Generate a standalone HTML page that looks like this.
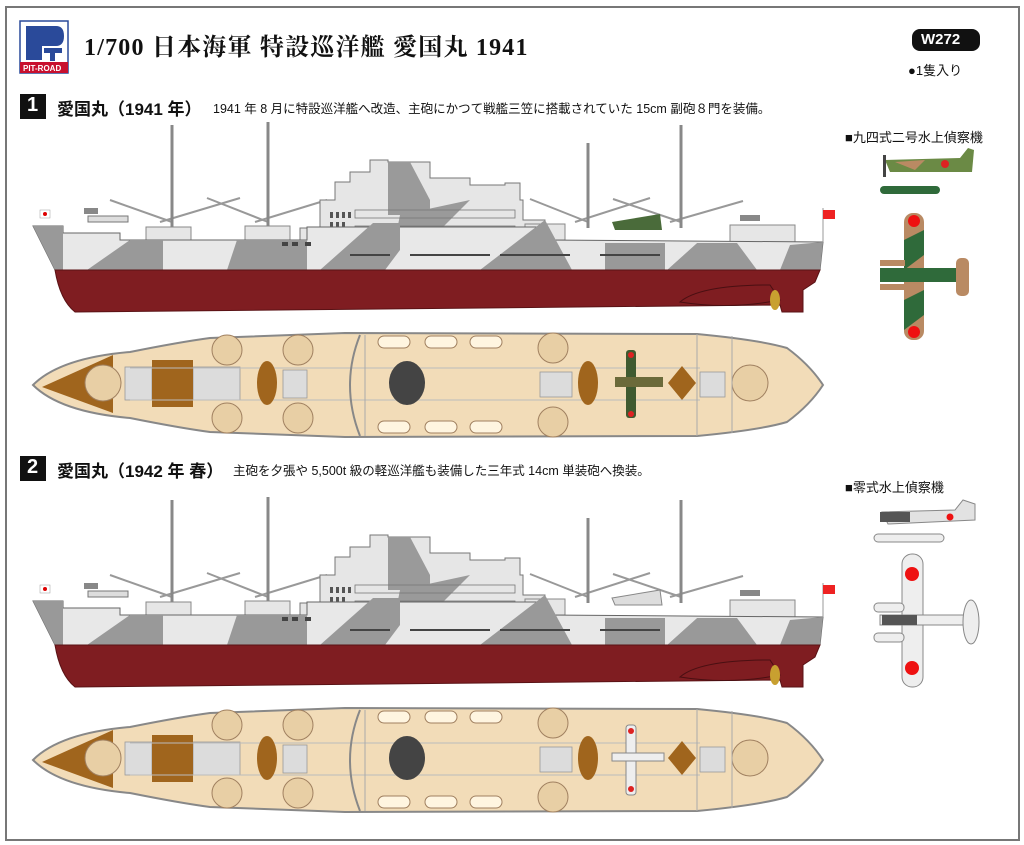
<!DOCTYPE html>
<html><head><meta charset="utf-8"><style>
html,body{margin:0;padding:0;background:#fff}
body{width:1024px;height:845px;position:relative;overflow:hidden;font-family:"Liberation Sans","Noto Sans CJK JP",sans-serif}
.t{position:absolute;white-space:nowrap;color:#111}
</style></head><body>
<svg width="1024" height="845" style="position:absolute;left:0;top:0">
<rect x="6" y="7" width="1013" height="833" fill="none" stroke="#777" stroke-width="2"/>
<defs>
<g id="side">
 <g stroke="#999" stroke-width="2" fill="none">
  <line x1="110" y1="200" x2="172" y2="222"/><line x1="240" y1="198" x2="160" y2="222"/>
  <line x1="207" y1="198" x2="268" y2="222"/><line x1="327" y1="200" x2="255" y2="222"/>
  <line x1="530" y1="199" x2="588" y2="222"/><line x1="650" y1="198" x2="575" y2="222"/>
  <line x1="613" y1="199" x2="681" y2="222"/><line x1="743" y1="201" x2="670" y2="222"/>
 </g>
 <g stroke="#888" stroke-width="3" fill="none">
  <line x1="172" y1="125" x2="172" y2="228"/><line x1="268" y1="122" x2="268" y2="228"/>
  <line x1="588" y1="143" x2="588" y2="228"/><line x1="681" y1="125" x2="681" y2="228"/>
 </g>
 <rect x="88" y="216" width="40" height="6" fill="#ddd" stroke="#777"/>
 <rect x="84" y="208" width="14" height="6" fill="#888"/>
 <rect x="146" y="227" width="45" height="13" fill="#e6e6e6" stroke="#888"/>
 <rect x="245" y="226" width="45" height="14" fill="#e6e6e6" stroke="#888"/>
 <path d="M300 240 L300 228 L320 228 L320 200 L335 200 L335 182 L350 182 L350 172 L370 172 L370 160 L388 160 L388 162 L430 162 L430 178 L470 178 L470 185 L505 185 L505 183 L520 183 L520 200 L523 200 L523 220 L545 220 L545 240 Z" fill="#e6e6e6" stroke="#777" stroke-width="1"/>
 <path d="M388 162 L410 162 L430 200 L430 215 L388 215 Z" fill="#9a9a9a"/>
 <path d="M400 215 L470 200 L430 240 L395 240 Z" fill="#9a9a9a"/>
 <g fill="#555">
  <rect x="330" y="212" width="3" height="6"/><rect x="336" y="212" width="3" height="6"/><rect x="342" y="212" width="3" height="6"/><rect x="348" y="212" width="3" height="6"/>
  <rect x="330" y="222" width="3" height="5"/><rect x="336" y="222" width="3" height="5"/><rect x="342" y="222" width="3" height="5"/>
 </g>
 <g fill="none" stroke="#777" stroke-width="0.8">
  <rect x="355" y="210" width="160" height="8"/><rect x="355" y="226" width="160" height="6"/>
 </g>
 <rect x="525" y="224" width="40" height="16" fill="#e6e6e6" stroke="#888"/>
 <rect x="730" y="225" width="65" height="18" fill="#e6e6e6" stroke="#888"/>
 <rect x="740" y="215" width="20" height="6" fill="#888"/>
 <path d="M33 226 L63 226 L63 233 L120 233 L120 240 L307 240 L307 227 L545 227 L545 240 L823 242 L820 270 L55 270 Q45 250 33 226 Z" fill="#e8e8e8" stroke="#666" stroke-width="1"/>
 <path d="M33 226 L63 226 L63 270 L55 270 Q45 250 33 226 Z" fill="#999"/>
 <path d="M87 270 L130 240 L163 240 L163 270 Z" fill="#999"/>
 <path d="M227 270 L237 240 L307 240 L307 270 Z" fill="#999"/>
 <path d="M320 270 L373 223 L400 223 L400 250 L385 270 Z" fill="#999"/>
 <path d="M480 270 L545 220 L572 270 Z" fill="#999"/>
 <path d="M605 243 L665 243 L665 270 L605 270 Z" fill="#999"/>
 <path d="M697 243 L737 243 L757 270 L667 270 Z" fill="#999"/>
 <path d="M697 243 L667 270 L667 243 Z" fill="#e8e8e8"/>
 <path d="M780 270 L790 245 L823 242 L820 270 Z" fill="#999"/>
 <g fill="#444">
  <rect x="350" y="254" width="40" height="2"/><rect x="410" y="254" width="80" height="2"/><rect x="500" y="254" width="70" height="2"/><rect x="600" y="254" width="60" height="2"/>
  <rect x="282" y="242" width="6" height="4"/><rect x="292" y="242" width="6" height="4"/><rect x="305" y="242" width="6" height="4"/>
 </g>
 <path d="M55 270 L820 270 L815 282 L803 290 L803 312 L782 312 L780 305 L75 312 Q60 300 55 270 Z" fill="#7f1d21" stroke="#5a1215" stroke-width="1"/>
 <path d="M680 302 Q700 285 770 285 L780 300 Q730 310 680 302 Z" fill="none" stroke="#4a0f12" stroke-width="1"/>
 <ellipse cx="775" cy="300" rx="5" ry="10" fill="#c8a030"/>
 <rect x="40" y="210" width="10" height="8" fill="#fff" stroke="#999" stroke-width=".5"/><circle cx="45" cy="214" r="2" fill="#d00"/>
 <line x1="823" y1="208" x2="823" y2="242" stroke="#999"/>
 <rect x="823" y="210" width="12" height="9" fill="#e22"/>
</g>
<g id="deck">
 <path d="M33 385 Q60 358 130 352 Q180 342 210 338 L345 333 L697 334 Q760 340 787 348 Q810 365 823 385 Q810 405 787 422 Q760 430 697 436 L345 437 L210 432 Q180 428 130 418 Q60 412 33 385 Z" fill="#f2dcb8" stroke="#888" stroke-width="2"/>
 <path d="M42 387 L113 355 L113 413 Z" fill="#a0651d"/>
 <g fill="#dcdcdc" stroke="#999" stroke-width=".8">
  <rect x="125" y="367" width="27" height="33"/><rect x="193" y="367" width="47" height="33"/>
  <rect x="283" y="370" width="24" height="28"/><rect x="540" y="372" width="32" height="25"/><rect x="700" y="372" width="25" height="25"/>
 </g>
 <rect x="152" y="360" width="41" height="47" fill="#a0651d"/>
 <g fill="none" stroke="#bbb" stroke-width="1"><line x1="130" y1="368" x2="700" y2="368"/><line x1="130" y1="400" x2="700" y2="400"/></g>
 <ellipse cx="267" cy="383" rx="10" ry="22" fill="#a0651d"/>
 <ellipse cx="588" cy="383" rx="10" ry="22" fill="#a0651d"/>
 <path d="M682 366 L696 383 L682 400 L668 383 Z" fill="#a0651d"/>
 <ellipse cx="407" cy="383" rx="18" ry="22" fill="#444"/>
 <g fill="#e8cfa5" stroke="#a08060" stroke-width="1">
  <circle cx="103" cy="383" r="18"/><circle cx="227" cy="350" r="15"/><circle cx="227" cy="418" r="15"/>
  <circle cx="298" cy="350" r="15"/><circle cx="298" cy="418" r="15"/>
  <circle cx="553" cy="348" r="15"/><circle cx="553" cy="422" r="15"/>
  <circle cx="750" cy="383" r="18"/>
 </g>
 <g fill="#fff5e0" stroke="#a08060">
  <rect x="378" y="336" width="32" height="12" rx="6"/><rect x="425" y="336" width="32" height="12" rx="6"/><rect x="470" y="336" width="32" height="12" rx="6"/>
  <rect x="378" y="421" width="32" height="12" rx="6"/><rect x="425" y="421" width="32" height="12" rx="6"/><rect x="470" y="421" width="32" height="12" rx="6"/>
 </g>
 <path d="M360 335 Q340 385 360 436" fill="none" stroke="#888" stroke-width="2"/>
 <line x1="365" y1="335" x2="365" y2="436" stroke="#aaa" stroke-width="1"/>
 <line x1="697" y1="334" x2="697" y2="436" stroke="#aaa"/><line x1="732" y1="336" x2="732" y2="433" stroke="#aaa"/>
</g>
</defs>
<use href="#side"/><use href="#deck"/>
<use href="#side" transform="translate(0,375)"/><use href="#deck" transform="translate(0,375)"/>
<path d="M612 222 L660 214 L662 230 L615 230 Z" fill="#4a6b3a"/>
<rect x="626" y="350" width="10" height="68" rx="3" fill="#3f5a30"/><rect x="615" y="377" width="48" height="10" fill="#6b6a3a"/>
<circle cx="631" cy="355" r="3" fill="#d22"/><circle cx="631" cy="414" r="3" fill="#d22"/>
<path d="M612 598 L660 590 L662 605 L615 605 Z" fill="#ddd" stroke="#888"/>
<rect x="626" y="725" width="10" height="70" rx="3" fill="#eee" stroke="#888"/><rect x="612" y="753" width="52" height="8" fill="#eee" stroke="#888"/>
<circle cx="631" cy="731" r="3" fill="#d22"/><circle cx="631" cy="789" r="3" fill="#d22"/>
<rect x="20" y="21" width="48" height="52" fill="#fff" stroke="#2a4a9a" stroke-width="1.5"/>
<path d="M26 26 L56 26 Q64 26 64 36 Q64 46 56 46 L42 46 L42 60 L26 60 Z" fill="#2a4a9a"/>
<rect x="44" y="48" width="18" height="5" fill="#2a4a9a"/><rect x="50" y="48" width="5" height="13" fill="#2a4a9a"/>
<rect x="20" y="62" width="48" height="11" fill="#c8102e"/>
<rect x="912" y="29" width="68" height="22" rx="8" fill="#111"/>
<rect x="20" y="94" width="26" height="25" fill="#111"/>
<rect x="20" y="456" width="26" height="25" fill="#111"/>
<path d="M885 160 L960 158 L968 148 L974 150 L972 172 L890 172 Z" fill="#6b8a45"/>
<path d="M895 162 L925 160 L915 170 Z" fill="#b98a63"/>
<circle cx="945" cy="164" r="4" fill="#d22"/>
<rect x="883" y="155" width="3" height="22" fill="#444"/>
<rect x="880" y="186" width="60" height="8" rx="4" fill="#2f6a3a"/>
<rect x="904" y="213" width="20" height="127" rx="9" fill="#b98a63"/>
<path d="M904 240 L924 230 L924 255 L904 270 Z M904 300 L924 290 L924 315 L904 330 Z" fill="#2f6a3a"/>
<rect x="880" y="268" width="85" height="14" fill="#2f6a3a"/>
<rect x="880" y="260" width="25" height="6" fill="#b98a63"/><rect x="880" y="284" width="25" height="6" fill="#b98a63"/>
<rect x="956" y="258" width="13" height="38" rx="5" fill="#b98a63"/>
<circle cx="914" cy="221" r="6" fill="#e11"/><circle cx="914" cy="332" r="6" fill="#e11"/>
<path d="M882 512 L955 510 L963 500 L975 504 L975 520 L888 524 Z" fill="#e2e2e2" stroke="#888"/>
<rect x="880" y="512" width="30" height="10" fill="#555"/>
<circle cx="950" cy="517" r="3.5" fill="#e11"/>
<rect x="874" y="534" width="70" height="8" rx="4" fill="#eee" stroke="#888"/>
<rect x="902" y="554" width="21" height="133" rx="10" fill="#eee" stroke="#888"/>
<rect x="880" y="615" width="95" height="10" fill="#eee" stroke="#888"/>
<rect x="882" y="615" width="35" height="10" fill="#555"/>
<rect x="874" y="603" width="30" height="9" rx="4" fill="#eee" stroke="#888"/><rect x="874" y="633" width="30" height="9" rx="4" fill="#eee" stroke="#888"/>
<ellipse cx="971" cy="622" rx="8" ry="22" fill="#eee" stroke="#888"/>
<circle cx="912" cy="574" r="7" fill="#e11"/><circle cx="912" cy="668" r="7" fill="#e11"/>
</svg>
<div class="t" style="left:23px;top:64px;font-size:8px;color:#fff;font-weight:bold">PIT-ROAD</div>
<div class="t" style="left:84px;top:27px;font-size:24px;font-weight:bold;font-family:'Liberation Serif','Noto Serif CJK SC',serif;letter-spacing:1.2px">1/700 日本海軍 特設巡洋艦 愛国丸 1941</div>
<div class="t" style="left:921px;top:31px;font-size:15px;font-weight:bold;color:#fff">W272</div>
<div class="t" style="left:908px;top:60px;font-size:13px">●1隻入り</div>
<div class="t" style="left:27px;top:94px;font-size:20px;font-weight:bold;color:#fff">1</div>
<div class="t" style="left:57px;top:95px;font-size:17px;font-weight:bold">愛国丸（1941 年）</div>
<div class="t" style="left:213px;top:98px;font-size:12.5px">1941 年 8 月に特設巡洋艦へ改造、主砲にかつて戦艦三笠に搭載されていた 15cm 副砲８門を装備。</div>
<div class="t" style="left:845px;top:127px;font-size:13px">■九四式二号水上偵察機</div>
<div class="t" style="left:27px;top:456px;font-size:20px;font-weight:bold;color:#fff">2</div>
<div class="t" style="left:57px;top:457px;font-size:17px;font-weight:bold">愛国丸（1942 年 春）</div>
<div class="t" style="left:233px;top:460px;font-size:12.5px">主砲を夕張や 5,500t 級の軽巡洋艦も装備した三年式 14cm 単装砲へ換装。</div>
<div class="t" style="left:845px;top:477px;font-size:13px">■零式水上偵察機</div>
</body></html>
